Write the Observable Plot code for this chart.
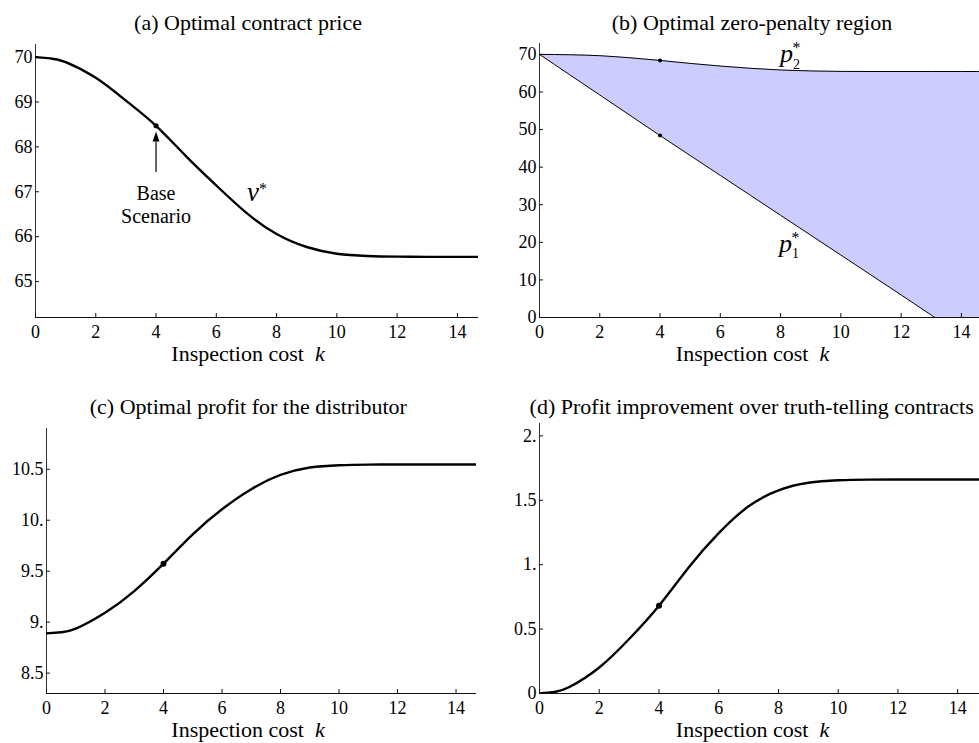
<!DOCTYPE html>
<html>
<head>
<meta charset="utf-8">
<script src="https://cdn.jsdelivr.net/npm/d3@7"></script>
<script src="https://cdn.jsdelivr.net/npm/@observablehq/plot@0.6"></script>
<style>
  body { margin: 0; background: #fff; }
  #fig { position: relative; width: 979px; height: 743px; overflow: hidden; color: #000;
         font-family: "Liberation Serif", "Times New Roman", serif; }
  .panel { position: absolute; }
  .title, .xlabel { position: absolute; width: 520px; text-align: center; font-size: 22px;
                    line-height: 22px; white-space: nowrap; }
</style>
</head>
<body>
<div id="fig"></div>
<script>
// Inspection cost k (shared sampling for panels a, c, d)
const inspectionCost = [0, 0.5, 1, 2, 3, 4, 5, 6, 7, 8, 9, 10, 11, 12, 13, 14, 15];
// (a) optimal contract price v*
const contractPrice = [70.00, 69.97, 69.89, 69.54, 69.03, 68.47, 67.79, 67.14, 66.53, 66.06, 65.77, 65.62, 65.57, 65.555, 65.55, 65.55, 65.55];
// (c) optimal profit for the distributor
const distributorProfit = [8.890, 8.901, 8.936, 9.092, 9.305, 9.574, 9.862, 10.107, 10.304, 10.444, 10.517, 10.540, 10.546, 10.547, 10.547, 10.547, 10.547];
// (d) profit improvement over truth-telling contracts
const profitImprovement = [0, 0.012, 0.050, 0.202, 0.423, 0.682, 0.981, 1.245, 1.453, 1.577, 1.636, 1.655, 1.660, 1.661, 1.661, 1.661, 1.661];

// (b) zero-penalty region bounds p1* (lower) and p2* (upper)
const regionCost = [0, 1, 2, 3, 4, 5, 6, 7, 8, 9, 10, 11, 12, 13, 13.12, 14, 15];
const upperBound = [70, 69.9, 69.65, 69.1, 68.4, 67.6, 66.9, 66.3, 65.85, 65.6, 65.48, 65.45, 65.45, 65.45, 65.45, 65.45, 65.45];
const lowerBound = [70, 64.6, 59.2, 53.8, 48.4, 43.1, 37.8, 32.5, 27.2, 21.9, 16.6, 11.3, 6.0, 0.64, 0, null, null];

// base scenario
const baseCost = 4;

// axis ticks and their labels
const xTicks = [0, 2, 4, 6, 8, 10, 12, 14];
const ticksA = [65, 66, 67, 68, 69, 70];
const labelsA = ["65", "66", "67", "68", "69", "70"];
const ticksB = [0, 10, 20, 30, 40, 50, 60, 70];
const labelsB = ["0", "10", "20", "30", "40", "50", "60", "70"];
const ticksC = [8.5, 9, 9.5, 10, 10.5];
const labelsC = ["8.5", "9.", "9.5", "10.", "10.5"];
const ticksD = [0, 0.5, 1, 1.5, 2];
const labelsD = ["0", "0.5", "1.", "1.5", "2."];

const titles = [
  "(a) Optimal contract price",
  "(b) Optimal zero-penalty region",
  "(c) Optimal profit for the distributor",
  "(d) Profit improvement over truth-telling contracts"
];

const serif = '"Liberation Serif", "Times New Roman", serif';
const fig = document.getElementById("fig");

const series = (ys) => inspectionCost.map((k, i) => ({k, v: ys[i]}));
const baseIndex = inspectionCost.indexOf(baseCost);
const smooth = "natural";

// filled arrowhead with its tip pointing up
const arrowHead = {
  draw(context) {
    context.moveTo(0, -10);
    context.lineTo(3.4, 0);
    context.lineTo(-3.4, 0);
    context.closePath();
  }
};

// frame: axis lines, inward ticks and tick labels
function axes(ticks, labels, xMin, yMin) {
  return [
    Plot.ruleY([yMin], {stroke: "#111", strokeWidth: 1}),
    Plot.ruleX([xMin], {stroke: "#333", strokeWidth: 1}),
    Plot.ruleX(xTicks, {x: d => d, y1: yMin, y2: yMin, insetTop: -4, stroke: "#111"}),
    Plot.ruleY(ticks, {y: d => d, x1: xMin, x2: xMin, insetRight: -4, stroke: "#111"}),
    Plot.axisX(xTicks, {tickSize: 0, tickPadding: 8, fontSize: 18, label: null}),
    Plot.axisY(ticks, {tickSize: 0, tickPadding: 3, fontSize: 18, label: null,
                       tickFormat: d => labels[ticks.indexOf(d)]})
  ];
}

function place(svg, left, top) {
  const div = document.createElement("div");
  div.className = "panel";
  div.style.left = left + "px";
  div.style.top = top + "px";
  div.appendChild(svg);
  fig.appendChild(div);
}

function caption(cls, text, cx, top, html) {
  const div = document.createElement("div");
  div.className = cls;
  div.style.left = (cx - 260) + "px";
  div.style.top = top + "px";
  if (html) div.innerHTML = text; else div.textContent = text;
  fig.appendChild(div);
}

const style = {fontFamily: serif, fontSize: "18px", color: "#000", background: "transparent", overflow: "visible"};

// (a) optimal contract price
const dataA = series(contractPrice);
const vLabel = [{k: 7.22, v: 66.98}];
const baseNote = [{k: baseCost, v: 66.73, text: "Base\nScenario"}];
const baseArrow = [{k: baseCost, tail: 67.44, head: 68.12}];
place(Plot.plot({
  width: 490, height: 370,
  marginLeft: 35, marginRight: 12, marginTop: 44, marginBottom: 53,
  x: {domain: [0, 14.7]},
  y: {domain: [64.2, 70.28]},
  style,
  marks: [
    ...axes(ticksA, labelsA, 0, 64.2),
    Plot.line(dataA, {x: "k", y: "v", curve: smooth, stroke: "#000", strokeWidth: 2.4, clip: true}),
    Plot.dot([dataA[baseIndex]], {x: "k", y: "v", r: 2.6, fill: "#000"}),
    Plot.link(baseArrow, {x1: "k", x2: "k", y1: "tail", y2: "head", stroke: "#000", strokeWidth: 1.2}),
    Plot.dot(baseArrow, {x: "k", y: "head", symbol: arrowHead, fill: "#000", stroke: "none"}),
    Plot.text(baseNote, {x: "k", y: "v", text: "text", fontSize: 20, lineHeight: 1.165, fontFamily: serif}),
    Plot.text(vLabel, {x: "k", y: "v", text: () => "v", fontSize: 27, fontStyle: "italic", fontFamily: serif}),
    Plot.text(vLabel, {x: "k", y: "v", text: () => "*", fontSize: 16, dx: 10, dy: -4, fontFamily: serif})
  ]
}), 0, 0);

// (b) optimal zero-penalty region
const dataB = regionCost.map((k, i) => ({k, lo: lowerBound[i], hi: upperBound[i]}));
const baseB = dataB[regionCost.indexOf(baseCost)];
const pLabels = [{k: 8.2, v: 70.2, sub: "2"}, {k: 8.16, v: 19.66, sub: "1"}];
place(Plot.plot({
  width: 489, height: 370,
  marginLeft: 49, marginRight: 0, marginTop: 43, marginBottom: 53,
  x: {domain: [0, 14.6]},
  y: {domain: [0, 72.9]},
  style,
  marks: [
    Plot.areaY(dataB, {x: "k", y1: d => d.lo ?? 0, y2: "hi", fill: "#ccccff", curve: "monotone-x", clip: true}),
    Plot.line(dataB, {x: "k", y: "hi", curve: "monotone-x", stroke: "#000", strokeWidth: 1, clip: true}),
    Plot.line(dataB.filter(d => d.lo != null), {x: "k", y: "lo", curve: "monotone-x", stroke: "#000", strokeWidth: 1, clip: true}),
    ...axes(ticksB, labelsB, 0, 0),
    Plot.dot([baseB], {x: "k", y: "hi", r: 2, fill: "#000"}),
    Plot.dot([baseB], {x: "k", y: "lo", r: 2, fill: "#000"}),
    Plot.text(pLabels, {x: "k", y: "v", text: () => "p", fontSize: 26, fontStyle: "italic", fontFamily: serif}),
    Plot.text(pLabels, {x: "k", y: "v", text: "sub", fontSize: 14, dx: 10, dy: 10.4, fontFamily: serif}),
    Plot.text(pLabels, {x: "k", y: "v", text: () => "*", fontSize: 16, dx: 10, dy: -5.5, fontFamily: serif})
  ]
}), 490, 0);

// (c) optimal profit for the distributor
const dataC = series(distributorProfit);
place(Plot.plot({
  width: 490, height: 373,
  marginLeft: 46, marginRight: 14, marginTop: 58, marginBottom: 50,
  x: {domain: [0, 14.7]},
  y: {domain: [8.3, 10.9]},
  style,
  marks: [
    ...axes(ticksC, labelsC, 0, 8.3),
    Plot.line(dataC, {x: "k", y: "v", curve: smooth, stroke: "#000", strokeWidth: 2.4, clip: true}),
    Plot.dot([dataC[baseIndex]], {x: "k", y: "v", r: 3, fill: "#000"})
  ]
}), 0, 370);

// (d) profit improvement over truth-telling contracts
const dataD = series(profitImprovement);
place(Plot.plot({
  width: 489, height: 373,
  marginLeft: 49, marginRight: 0, marginTop: 53, marginBottom: 50,
  x: {domain: [0, 14.73]},
  y: {domain: [0, 2.096]},
  style,
  marks: [
    ...axes(ticksD, labelsD, 0, 0),
    Plot.line(dataD, {x: "k", y: "v", curve: smooth, stroke: "#000", strokeWidth: 2.4, clip: true}),
    Plot.dot([dataD[baseIndex]], {x: "k", y: "v", r: 3, fill: "#000"})
  ]
}), 490, 370);

// titles and axis labels
const xLabel = "Inspection cost&nbsp;&nbsp;<i>k</i>";
caption("title", titles[0], 248, 11.5);
caption("title", titles[1], 752, 11.5);
caption("title", titles[2], 248.3, 396);
caption("title", titles[3], 751.7, 396);
caption("xlabel", xLabel, 248, 343, true);
caption("xlabel", xLabel, 752.5, 343, true);
caption("xlabel", xLabel, 248, 719, true);
caption("xlabel", xLabel, 752.5, 719, true);
</script>
</body>
</html>
